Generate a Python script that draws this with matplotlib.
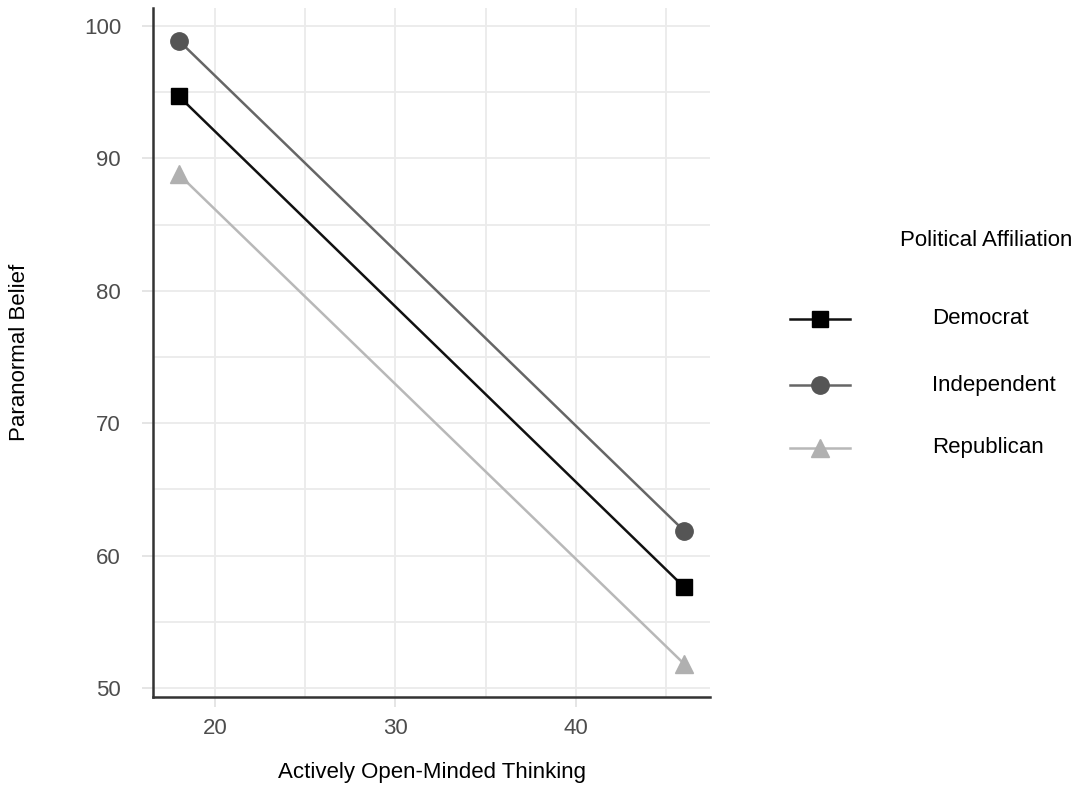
import matplotlib.pyplot as plt
from matplotlib.lines import Line2D
from matplotlib.ticker import MultipleLocator

plt.rcParams['font.family'] = ['Liberation Sans', 'DejaVu Sans']

# data
aot = [18, 46]
groups = ["Democrat", "Independent", "Republican"]
democrat = [94.7, 57.6]
independent = [98.9, 61.85]
republican = [88.8, 51.8]

series = [democrat, independent, republican]
markers = ["s", "o", "^"]
marker_colors = ["#000000", "#555555", "#b0b0b0"]
line_colors = ["#111111", "#666666", "#b8b8b8"]
msizes = [12, 12.5, 13]
fs = 16

fig = plt.figure(figsize=(10.75, 7.87), dpi=100)
ax = fig.add_axes([0.1423, 0.1144, 0.5182, 0.8754])

for vals, m, mc, lc, ms in zip(series, markers, marker_colors, line_colors, msizes):
    ax.plot(aot, vals, color=lc, lw=1.8, marker=m, ms=ms,
            markerfacecolor=mc, markeredgecolor=mc, zorder=3)

ax.set_xlim(16.57, 47.42)
ax.set_ylim(49.32, 101.36)
ax.xaxis.set_major_locator(MultipleLocator(10))
ax.xaxis.set_minor_locator(MultipleLocator(5))
ax.yaxis.set_major_locator(MultipleLocator(10))
ax.yaxis.set_minor_locator(MultipleLocator(5))
ax.grid(which="both", color="#ebebeb", lw=1.3, zorder=0)
ax.set_axisbelow(True)

for s in ["top", "right"]:
    ax.spines[s].set_visible(False)
for s in ["left", "bottom"]:
    ax.spines[s].set_color("#333333")
    ax.spines[s].set_linewidth(1.8)

ax.tick_params(axis="x", which="major", length=7, width=1.2, color="#e0e0e0",
               pad=8, labelsize=fs, labelcolor="#4d4d4d")
ax.tick_params(axis="y", which="major", length=8, width=1.2, color="#e0e0e0",
               pad=15, labelsize=fs, labelcolor="#4d4d4d")
ax.tick_params(which="minor", length=0)

ax.set_xlabel("Actively Open-Minded Thinking", fontsize=fs, va="center")
ax.set_ylabel("Paranormal Belief", fontsize=fs, va="center")
ax.xaxis.set_label_coords(0.5, -0.110)
ax.yaxis.set_label_coords(-0.240, 0.5)

# legend on the right
fig.text(986 / 1075, 1 - 241 / 787, "Political Affiliation", fontsize=fs,
         ha="center", va="center")
ys = [319, 385, 448]
for name, m, mc, lc, ms, yp in zip(groups, markers, marker_colors, line_colors, msizes, ys):
    yf = 1 - yp / 787
    fig.add_artist(Line2D([790 / 1075, 850 / 1075], [yf, yf], color=lc, lw=1.8,
                          transform=fig.transFigure))
    fig.add_artist(Line2D([820 / 1075], [yf], marker=m, ms=ms, color=mc,
                          transform=fig.transFigure))
    fig.text(932 / 1075, yf, name, fontsize=fs, ha="left", va="center")

fig.savefig("out.png", dpi=100)
